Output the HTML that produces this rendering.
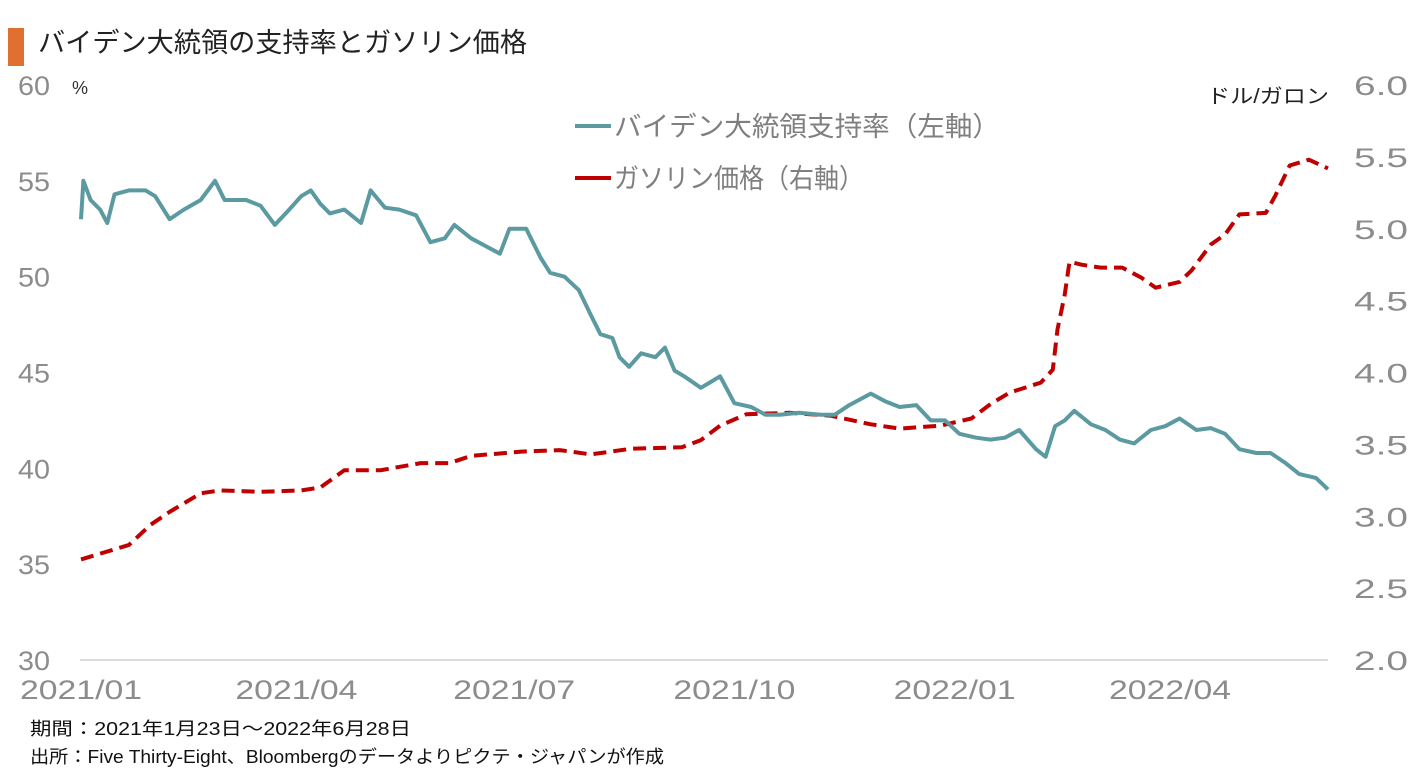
<!DOCTYPE html>
<html><head><meta charset="utf-8"><style>
body{margin:0;background:#fff;font-family:"Liberation Sans","Noto Sans CJK JP",sans-serif;}
#wrap{position:relative;width:1418px;height:781px;overflow:hidden;}
</style></head><body>
<div id="wrap">
<svg id="chart" width="1418" height="781" xmlns="http://www.w3.org/2000/svg" font-family="Liberation Sans, Noto Sans CJK JP, sans-serif">
<rect x="8" y="28" width="16" height="38" fill="#e07030"/>
<text x="38" y="52" font-size="27" fill="#222" textLength="489" lengthAdjust="spacingAndGlyphs">バイデン大統領の支持率とガソリン価格</text>
<line x1="80" y1="660" x2="1328" y2="660" stroke="#d0d0d0" stroke-width="1.5"/>
<g id="leftTicks"></g>
<g id="rightTicks"></g>
<g id="xTicks"></g>
<text x="72" y="94" font-size="18" fill="#333">%</text>
<text x="1207" y="103" font-size="20" fill="#222" textLength="122" lengthAdjust="spacingAndGlyphs">ドル/ガロン</text>
<g>
<g>
<line x1="575" y1="126" x2="611" y2="126" stroke="#5b9aa0" stroke-width="4"/>
<text x="614" y="136" font-size="27" fill="#7f7f7f" textLength="386" lengthAdjust="spacingAndGlyphs">バイデン大統領支持率（左軸）</text></g>
<g>
<line x1="575" y1="178" x2="611" y2="178" stroke="#c00000" stroke-width="4"/>
<text x="614" y="188" font-size="27" fill="#7f7f7f" textLength="250" lengthAdjust="spacingAndGlyphs">ガソリン価格（右軸）</text></g>
</g>
<path id="gasLine" fill="none" stroke="#c00000" stroke-width="4" stroke-dasharray="13 7" stroke-linejoin="round"/>
<path id="apprLine" fill="none" stroke="#5b9aa0" stroke-width="4" stroke-linejoin="round"/>
<text x="30" y="735" font-size="18" fill="#111" textLength="381" lengthAdjust="spacingAndGlyphs">期間：2021年1月23日～2022年6月28日</text>
<text x="30" y="763" font-size="18" fill="#111" textLength="634" lengthAdjust="spacingAndGlyphs">出所：Five Thirty-Eight、Bloombergのデータよりピクテ・ジャパンが作成</text>
</svg>
</div>
<script>
const apprDays=[0,1,4,8,11,14,20,27,31,37,43,50,56,60,69,75,81,87,92,96,100,104,110,117,121,127,133,140,146,152,156,163,169,175,179,186,192,196,202,208,213,217,222,225,229,234,240,244,248,252,259,263,267,273,280,286,292,300,309,315,321,330,336,342,349,355,361,367,374,380,386,392,399,403,407,411,415,422,428,434,440,447,453,459,466,472,478,484,491,497,503,509,516,521];
const apprVals=[53,55,54,53.5,52.8,54.3,54.5,54.5,54.2,53,53.5,54,55,54,54,53.7,52.7,53.5,54.2,54.5,53.8,53.3,53.5,52.8,54.5,53.6,53.5,53.2,51.8,52,52.7,52,51.6,51.2,52.5,52.5,51,50.2,50,49.3,48,47,46.8,45.8,45.3,46,45.8,46.3,45.1,44.8,44.2,44.5,44.8,43.4,43.2,42.8,42.8,42.9,42.8,42.8,43.3,43.9,43.5,43.2,43.3,42.5,42.5,41.8,41.6,41.5,41.6,42,41,40.6,42.2,42.5,43,42.3,42,41.5,41.3,42,42.2,42.6,42,42.1,41.8,41,40.8,40.8,40.3,39.7,39.5,38.9];
const gasDays=[0,20,29,37,50,58,75,92,100,110,125,142,154,163,184,200,213,230,251,259,267,278,296,313,330,342,359,372,380,388,401,406,408,411,413,418,426,435,443,449,459,464,472,478,484,495,499,505,513,521];
const gasVals=[2.70,2.80,2.94,3.03,3.16,3.18,3.17,3.18,3.20,3.32,3.32,3.37,3.37,3.42,3.45,3.46,3.43,3.47,3.48,3.53,3.63,3.71,3.72,3.70,3.64,3.61,3.63,3.68,3.78,3.86,3.93,4.02,4.30,4.54,4.77,4.75,4.73,4.73,4.66,4.59,4.63,4.71,4.89,4.96,5.10,5.11,5.23,5.44,5.48,5.42];
const leftTicks=[30,35,40,45,50,55,60];
const rightTicks=["2.0","2.5","3.0","3.5","4.0","4.5","5.0","5.5","6.0"];
const xLabels=["2021/01","2021/04","2021/07","2021/10","2022/01","2022/04"];
const xLabelDays=[0,90,181,273,365,455];
const X0=81,X1=1328,Y0=660,Y1=85,DMAX=521;
const xs=d=>X0+(X1-X0)*d/DMAX;
const yL=v=>Y0-(v-30)/30*(Y0-Y1);
const yR=v=>Y0-(v-2)/4*(Y0-Y1);
const NS="http://www.w3.org/2000/svg";
function txt(g,x,y,s,size,fill,len){const t=document.createElementNS(NS,"text");t.setAttribute("x",x);t.setAttribute("y",y);t.setAttribute("font-size",size);t.setAttribute("fill",fill);t.setAttribute("textLength",len);t.setAttribute("lengthAdjust","spacingAndGlyphs");t.textContent=s;g.appendChild(t);return t;}
const lg=document.getElementById("leftTicks");
leftTicks.forEach(v=>{const t=txt(lg,18,yL(v)+10,String(v),27,"#8c8c8c",32);

});
const rg=document.getElementById("rightTicks");
rightTicks.forEach(v=>{const t=txt(rg,1354,yR(parseFloat(v))+10,v,27,"#8c8c8c",54);

});
const xg=document.getElementById("xTicks");
xLabels.forEach((s,i)=>{const t=txt(xg,xs(xLabelDays[i])-61,699,s,27,"#8c8c8c",122);

});
function path(days,vals,yf){return days.map((d,i)=>(i?"L":"M")+xs(d).toFixed(1)+","+yf(vals[i]).toFixed(1)).join("");}
document.getElementById("apprLine").setAttribute("d",path(apprDays,apprVals,yL));
document.getElementById("gasLine").setAttribute("d",path(gasDays,gasVals,yR));
</script>
</body></html>
